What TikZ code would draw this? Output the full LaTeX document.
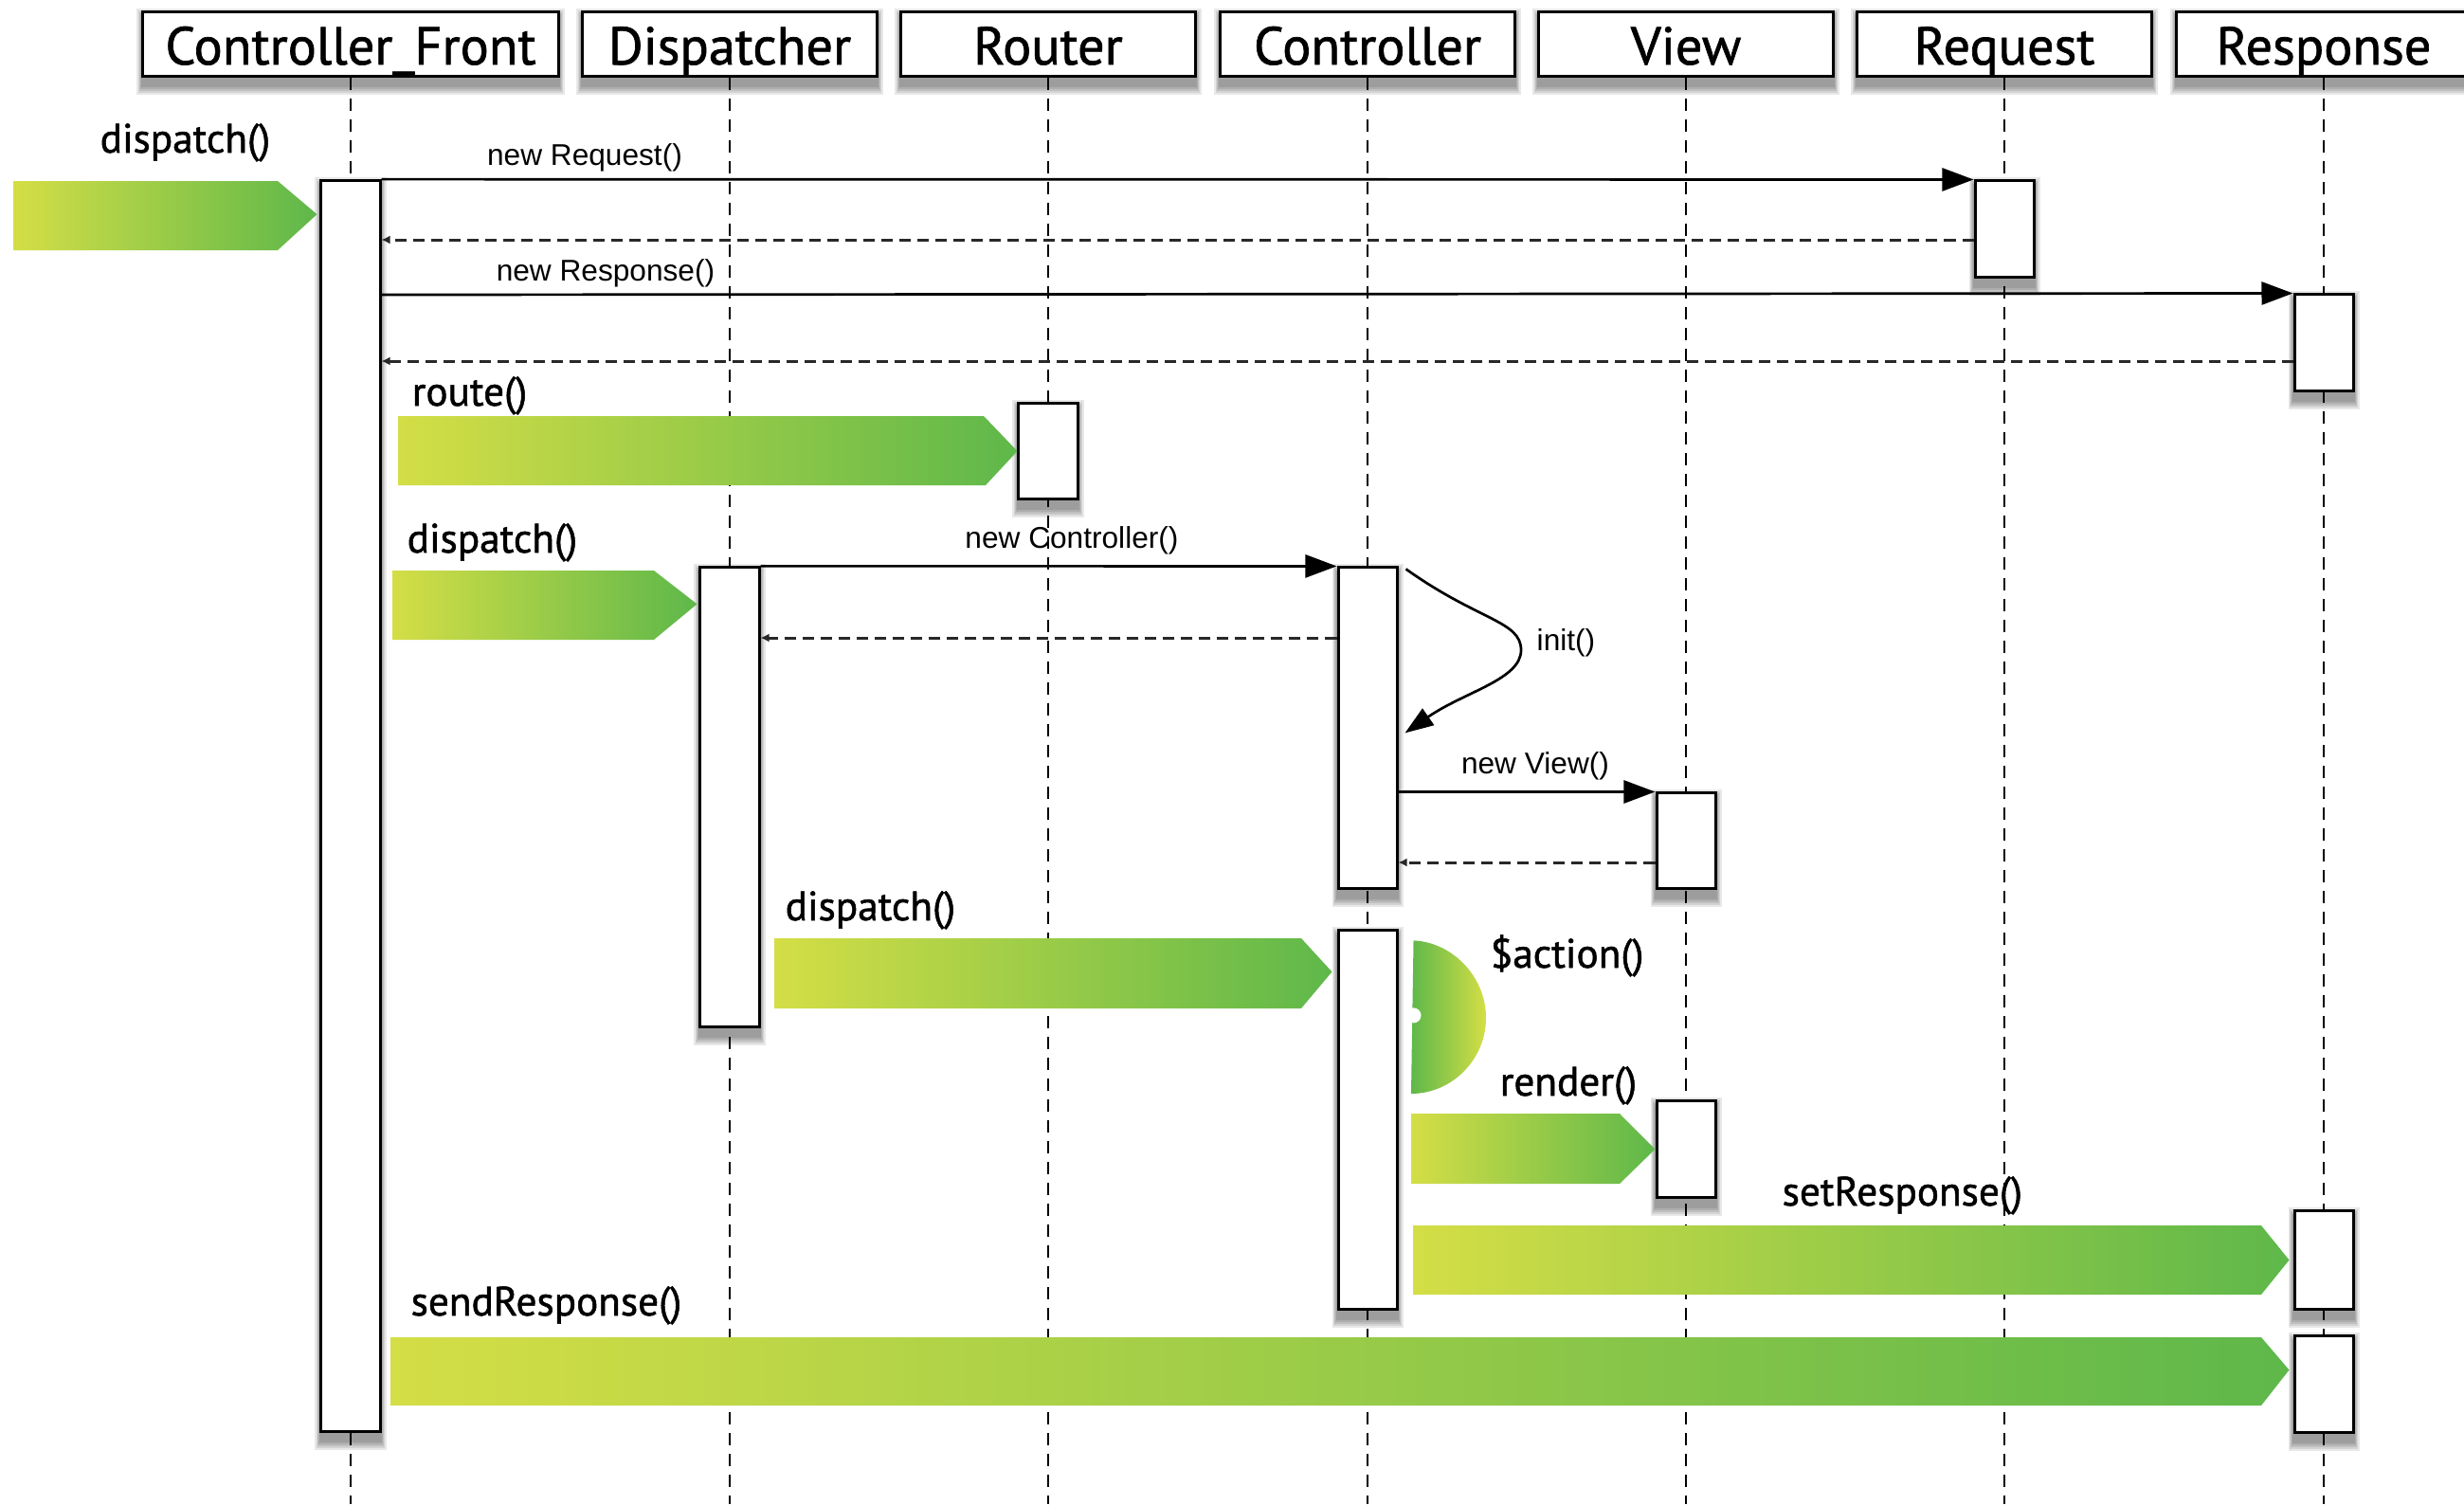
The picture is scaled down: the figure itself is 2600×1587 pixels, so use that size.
\documentclass[tikz,border=0pt]{standalone}
\usepackage{fontspec}
\setmainfont{PT Sans}
\newfontfamily\ptsans[FakeBold=1.2]{PT Sans}
\newfontfamily\arialf{Liberation Sans}
\usetikzlibrary{arrows.meta,calc,backgrounds}
\definecolor{glY}{RGB}{212,222,70}
\definecolor{glG}{RGB}{94,184,74}
\definecolor{retc}{RGB}{40,40,40}
\newcommand\softshadow[1]{%
  \foreach \r in {2,4,6,8,10}{%
    \fill[black,opacity=0.09] ($(#1.north west)+(-0.6*\r+1,8-\r)$) rectangle ($(#1.south east)+(0.6*\r-1,8+\r)$);
  }}
\begin{document}
\begin{tikzpicture}[x=0.01cm,y=-0.01cm,
  hdr/.style={draw=black,line width=0.03cm,fill=white,inner sep=0pt,minimum height=0.67cm,minimum width=3.10cm,text height=0.45cm,text depth=0.02cm,font=\ptsans\fontsize{16}{18}\selectfont},
  act/.style={draw=black,line width=0.03cm,fill=white,inner sep=0pt,minimum width=0.62cm},
  lifeline/.style={line width=0.02cm,dash pattern=on 0.13cm off 0.09cm},
  msg/.style={line width=0.027cm,-{Triangle[length=0.33cm,width=0.24cm]}},
  ret/.style={line width=0.03cm,draw=retc,dash pattern=on 0.12cm off 0.07cm,-{Latex[length=0.09cm,width=0.09cm]}},
  big/.style={font=\ptsans\fontsize{12.3}{14}\selectfont,inner sep=0pt,anchor=base west},
  small/.style={font=\arialf\fontsize{9}{11}\selectfont,inner sep=0pt,anchor=base},
  grad/.style={left color=glY,right color=glG},
]
\useasboundingbox (0,0) rectangle (2600,1587);
\coordinate (bot) at (0,1587);

% headers
\node[hdr,minimum width=4.38cm] (cf) at (370,46.5) {Controller\_Front};
\node[hdr] (disp) at (770,46.5) {Dispatcher};
\node[hdr] (rout) at (1106,46.5) {Router};
\node[hdr] (ctrl) at (1443,46.5) {Controller};
\node[hdr] (view) at (1779,46.5) {View};
\node[hdr] (req) at (2115,46.5) {Request};
\node[hdr] (resp) at (2452,46.5) {Response};

% activations
\node[act,minimum height=13.19cm] (cfact) at (370,850.5) {};
\node[act,minimum height=1.01cm] (reqact) at (2115,241.5) {};
\node[act,minimum height=1.01cm] (resp1) at (2452,361.5) {};
\node[act,minimum height=1.00cm] (routact) at (1106,476) {};
\node[act,minimum height=4.84cm] (dispact) at (770,841) {};
\node[act,minimum height=3.38cm] (ctrl1) at (1443,768) {};
\node[act,minimum height=1.00cm] (view1) at (1779,887) {};
\node[act,minimum height=3.99cm] (ctrl2) at (1443,1181.5) {};
\node[act,minimum height=1.01cm] (view2) at (1779,1212.5) {};
\node[act,minimum height=1.03cm] (resp2) at (2452,1329.5) {};
\node[act,minimum height=1.01cm] (resp3) at (2452,1460.5) {};

\begin{pgfonlayer}{background}
\fill[white] (0,0) rectangle (2600,1587);
\foreach \n in {cf,disp,rout,ctrl,view,req,resp}{\draw[lifeline] (\n.south) -- (\n.south |- bot);}
\foreach \n in {cf,disp,rout,ctrl,view,req,resp,cfact,reqact,resp1,routact,dispact,ctrl1,view1,ctrl2,view2,resp2,resp3}{\softshadow{\n}}
\end{pgfonlayer}

% messages
\coordinate (yR1) at (0,253);
\coordinate (yNR) at (0,311);
\coordinate (yR2) at (0,381);
\coordinate (yR3) at (0,673);
\coordinate (yR4) at (0,910);
\draw[msg] (cfact.north east) -- (reqact.north west);
\draw[ret] (reqact.west |- yR1) -- (cfact.east |- yR1);
\draw[msg] (cfact.east |- yNR) -- (resp1.north west);
\draw[ret] (resp1.west |- yR2) -- (cfact.east |- yR2);
\draw[msg] (dispact.north east) -- (ctrl1.north west);
\draw[ret] (ctrl1.west |- yR3) -- (dispact.east |- yR3);
\draw[msg] (ctrl1.east |- view1.north) -- (view1.north west);
\draw[ret] (view1.west |- yR4) -- (ctrl1.east |- yR4);

% init self call
\coordinate (i0) at ($(ctrl1.north east)+(8,3)$);
\coordinate (i1) at (1605,686);
\coordinate (i2) at ($(ctrl1.north east)+(7,176)$);
\draw[line width=0.027cm,-{Triangle[length=0.3cm,width=0.21cm]}] (i0) .. controls (1560,655) and (1605,655) .. (i1) .. controls (1605,717) and (1545,730) .. (i2);

% green call arrows
\path[grad] (14,191) -- (293,191) -- ($(cfact.north west)+(-3,37)$) -- (293,264) -- (14,264) -- cycle;
\path[grad] (420,439) -- (1038,439) -- (routact.west) -- (1040,512) -- (420,512) -- cycle;
\path[grad] (414,602) -- (690,602) -- ($(dispact.north west)+(-2,40)$) -- (690,675) -- (414,675) -- cycle;
\path[grad] (817,990) -- (1373,990) -- ($(ctrl2.north west)+(-5,45)$) -- (1373,1064) -- (817,1064) -- cycle;
\path[grad] (1489,1175) -- (1709,1175) -- (view2.west) -- (1709,1249) -- (1489,1249) -- cycle;
\path[grad] (1491,1293) -- (2386,1293) -- ($(resp2.west)+(-4,0)$) -- (2386,1366) -- (1491,1366) -- cycle;
\path[grad] (412,1411) -- (2386,1411) -- ($(resp3.north west)+(-4,37)$) -- (2386,1483) -- (412,1483) -- cycle;

% $action self call
\path[left color=glG,right color=glY] ($(ctrl2.north east)+(16,12)$) .. controls (1532,994) and (1568,1030) .. (1568,1074) .. controls (1568,1118) and (1532,1154) .. (1489,1154) -- cycle;
\fill[white] ($(ctrl2.north east)+(16,91)$) circle (0.08cm);

% labels
\node[big] (l1) at (105,161) {dispatch()};
\node[big] (l2) at (434,428) {route()};
\node[big] (l3) at (429,583) {dispatch()};
\node[big] (l4) at (828,971) {dispatch()};
\node[big] (l5) at (1572,1021) {\$action()};
\node[big] (l6) at (1582,1156) {render()};
\node[big] (l7) at (1880,1272) {setResponse()};
\node[big] (l8) at (433,1388) {sendResponse()};
\node[small] (s1) at (617,174) {new Request()};
\node[small] (s2) at (639,296) {new Response()};
\node[small] (s3) at (1131,578) {new Controller()};
\node[small,anchor=base west] (s4) at (1621,686) {init()};
\node[small] (s5) at (1620,816) {new View()};
\end{tikzpicture}
\end{document}
